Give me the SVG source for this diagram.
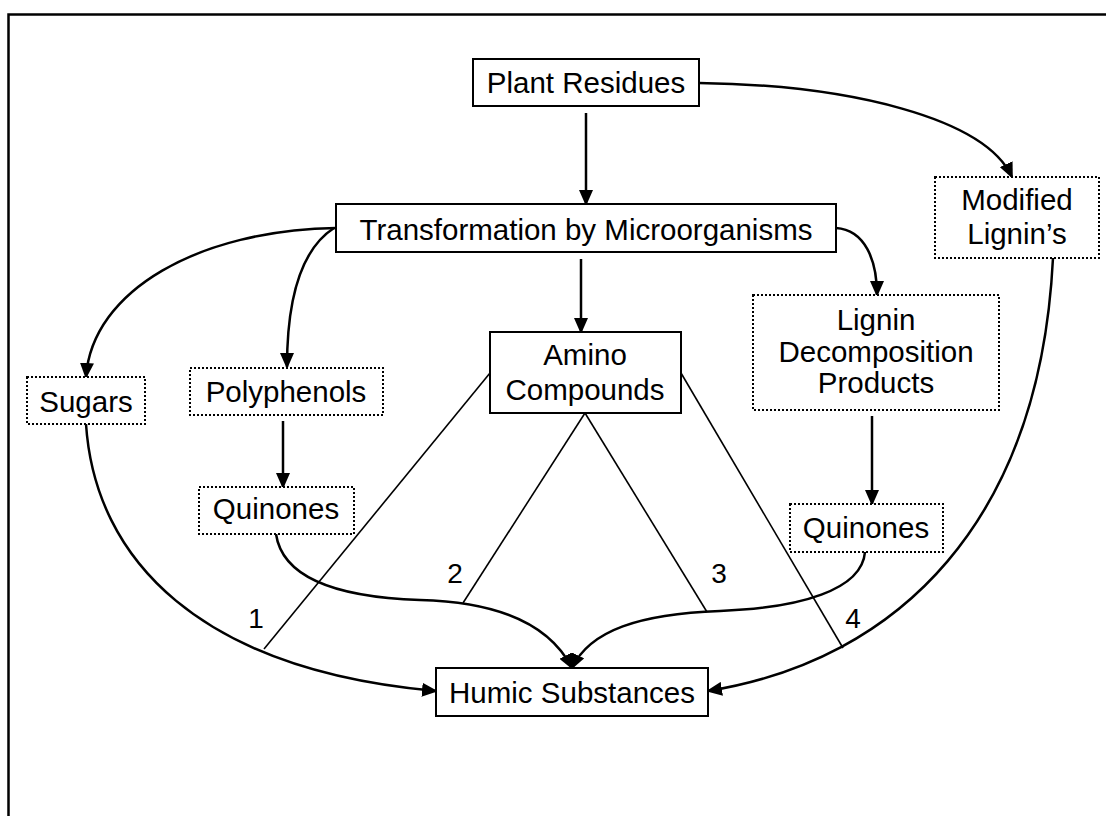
<svg xmlns="http://www.w3.org/2000/svg" width="1106" height="816" viewBox="0 0 1106 816">
<style>
text{font-family:"Liberation Sans",Arial,sans-serif;font-size:29.5px;fill:#000;text-anchor:middle}
.solid{fill:#fff;stroke:#000;stroke-width:2}
.dot{fill:#fff;stroke:#000;stroke-width:2;stroke-dasharray:2 2}
.arr{fill:none;stroke:#000;stroke-width:2.5;marker-end:url(#ah)}
.ln{fill:none;stroke:#000;stroke-width:1.6}
.num{font-size:28px}
</style>
<defs>
<marker id="ah" markerUnits="userSpaceOnUse" markerWidth="16" markerHeight="14" viewBox="0 0 16 14" refX="14" refY="7" orient="auto">
<path d="M0,0 L16,7 L0,14 z" fill="#000"/>
</marker>
</defs>
<rect x="0" y="0" width="1106" height="816" fill="#fff"/>
<rect x="8.5" y="14.5" width="1200" height="900" fill="none" stroke="#000" stroke-width="2.5"/>

<g id="connectors">
<path class="arr" d="M586,113 L586,204"/>
<path class="arr" d="M581,259 L581,332"/>
<path class="arr" d="M699,83 C850,85 985,118 1012,177"/>
<path class="arr" d="M336,228 C200,230 92,290 86,377"/>
<path class="arr" d="M334,228 C300,250 287,300 287,367"/>
<path class="arr" d="M836,228 C865,230 877,260 877,295"/>
<path class="arr" d="M283,421 L283,487"/>
<path class="arr" d="M872,416 L872,504"/>
<path class="arr" d="M86,424 C95,560 200,670 436,691"/>
<path class="arr" d="M1053,258 C1040,520 900,660 708,691"/>
<path class="arr" d="M276,534 C282,575 330,597 420,600 C500,602 550,625 572,668"/>
<path class="arr" d="M865,552 C862,590 800,608 720,611 C640,614 590,630 572,668"/>
<path class="ln" d="M490,373 L264,649"/>
<path class="ln" d="M585,413 L463,603"/>
<path class="ln" d="M585,413 L707,612"/>
<path class="ln" d="M681,373 L843,648"/>
<text class="num" x="256" y="628">1</text>
<text class="num" x="455" y="583">2</text>
<text class="num" x="719" y="583">3</text>
<text class="num" x="853" y="628">4</text>
</g>

<g id="plant-residues">
<rect class="solid" x="473" y="59" width="226" height="47"/>
<text x="586" y="93">Plant Residues</text>
</g>
<g id="transformation">
<rect class="solid" x="336" y="204" width="500" height="48"/>
<text x="586" y="240">Transformation by Microorganisms</text>
</g>
<g id="modified-lignins">
<rect class="dot" x="935" y="177" width="164" height="81"/>
<text x="1017" y="210">Modified</text>
<text x="1017" y="244">Lignin’s</text>
</g>
<g id="sugars">
<rect class="dot" x="27" y="377" width="118" height="47"/>
<text x="86" y="412">Sugars</text>
</g>
<g id="polyphenols">
<rect class="dot" x="190" y="368" width="193" height="47"/>
<text x="286" y="402">Polyphenols</text>
</g>
<g id="amino-compounds">
<rect class="solid" x="490" y="332" width="191" height="81"/>
<text x="585" y="365">Amino</text>
<text x="585" y="400">Compounds</text>
</g>
<g id="lignin-decomposition-products">
<rect class="dot" x="753" y="295" width="246" height="115"/>
<text x="876" y="330">Lignin</text>
<text x="876" y="362">Decomposition</text>
<text x="876" y="393">Products</text>
</g>
<g id="quinones-left">
<rect class="dot" x="199" y="487" width="155" height="47"/>
<text x="276" y="519">Quinones</text>
</g>
<g id="quinones-right">
<rect class="dot" x="790" y="504" width="153" height="48"/>
<text x="866" y="538">Quinones</text>
</g>
<g id="humic-substances">
<rect class="solid" x="436" y="668" width="272" height="48"/>
<text x="572" y="703">Humic Substances</text>
</g>
</svg>
